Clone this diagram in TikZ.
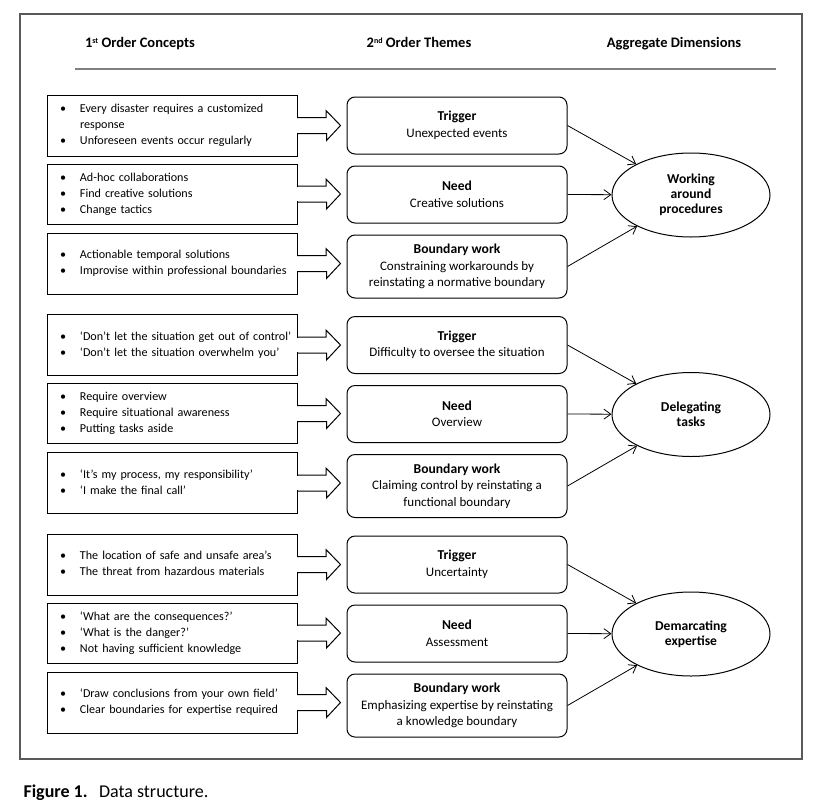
\documentclass[tikz,border=0pt]{standalone}
\usepackage{fontspec}
\setmainfont{Carlito}
\usetikzlibrary{shapes,calc,arrows.meta}

\tikzset{
  concept/.style={draw, line width=1pt, text width=250pt, inner sep=0pt, align=left,
    font=\fontsize{12.1}{16}\selectfont},
  theme/.style={draw, rounded corners=8pt, line width=1pt, minimum width=220pt, inner sep=0pt,
    align=center, font=\fontsize{13}{16.5}\selectfont},
  dimension/.style={draw, ellipse, line width=1pt, minimum width=158pt, minimum height=84pt,
    inner sep=0pt, align=center, font=\bfseries\fontsize{13.6}{15}\selectfont},
  header/.style={anchor=base, font=\bfseries\fontsize{14.5}{16}\selectfont},
  link/.style={->, >={Straight Barb[length=7pt,width=10pt]}, line width=0.8pt},
}

\newcommand{\bul}{\textbullet &}
\newcommand{\pts}[1]{\begin{tabular}{@{\hspace{13pt}}p{20pt}@{}l@{}}#1\end{tabular}}
\newcommand{\ttl}[1]{{\bfseries\fontsize{13.6}{16.5}\selectfont #1}}
\newcommand{\ord}[1]{\raisebox{4pt}{\fontsize{8}{8}\selectfont #1}}
\newcommand{\blockarrow}[2]{%
  \fill[white] ($(#1.east)+(-1,-7.4)$) rectangle ($(#1.east)+(1,7.4)$);
  \draw[line width=1pt, line join=miter] ($(#1.east)+(-0.5,-8)$) -- ++(29,0) -- ++(0,-7)
    -- ($(#1.east -| #2.west)+(-6,0)$) -- ($(#1.east)+(29,15)$) -- ++(0,-7) -- ($(#1.east)+(-0.5,8)$);}

\begin{document}
\begin{tikzpicture}[x=1pt, y=-1pt]
	\useasboundingbox (0,0) rectangle (826,806);
	\draw[black!65, line width=1.2pt] (20,14) rectangle (802,759);
	\node[header] (h1) at (140,47) {1\ord{st} Order Concepts};
	\node[header] (h2) at (419,47) {2\ord{nd} Order Themes};
	\node[header] (h3) at (674,47) {Aggregate Dimensions};
	\draw[black!50, line width=1.5pt] (75,69) -- (776,69);

	\node[concept, minimum height=61pt] (c1) at (172,125.5) {\pts{\bul Every disaster requires a customized\\ & response\\ \bul Unforeseen events occur regularly}};
	\node[concept, minimum height=60pt] (c2) at (172,194) {\pts{\bul Ad-hoc collaborations\\ \bul Find creative solutions\\ \bul Change tactics}};
	\node[concept, minimum height=61pt] (c3) at (172,263.5) {\pts{\bul Actionable temporal solutions\\ \bul Improvise within professional boundaries}};
	\node[concept, minimum height=61pt] (c4) at (172,345) {\pts{\bul ‘Don’t let the situation get out of control’\\ \bul ‘Don’t let the situation overwhelm you’}};
	\node[concept, minimum height=60pt] (c5) at (172,413.5) {\pts{\bul Require overview\\ \bul Require situational awareness\\ \bul Putting tasks aside}};
	\node[concept, minimum height=61pt] (c6) at (172,483) {\pts{\bul ‘It’s my process, my responsibility’\\ \bul ‘I make the final call’}};
	\node[concept, minimum height=61pt] (c7) at (172,564.5) {\pts{\bul The location of safe and unsafe area’s\\ \bul The threat from hazardous materials}};
	\node[concept, minimum height=60pt] (c8) at (172,633) {\pts{\bul ‘What are the consequences?’\\ \bul ‘What is the danger?’\\ \bul Not having sufficient knowledge}};
	\node[concept, minimum height=61pt] (c9) at (172,702.5) {\pts{\bul ‘Draw conclusions from your own field’\\ \bul Clear boundaries for expertise required}};

	\node[theme, minimum height=57pt] (t1) at (457,125.5) {\ttl{Trigger}\\ Unexpected events};
	\node[theme, minimum height=57pt] (t2) at (457,194.5) {\ttl{Need}\\ Creative solutions};
	\node[theme, minimum height=63pt] (t3) at (457,266.5) {\ttl{Boundary work}\\ Constraining workarounds by\\ reinstating a normative boundary};
	\node[theme, minimum height=57pt] (t4) at (457,345) {\ttl{Trigger}\\ Difficulty to oversee the situation};
	\node[theme, minimum height=57pt] (t5) at (457,414) {\ttl{Need}\\ Overview};
	\node[theme, minimum height=63pt] (t6) at (457,486) {\ttl{Boundary work}\\ Claiming control by reinstating a\\ functional boundary};
	\node[theme, minimum height=57pt] (t7) at (457,564.5) {\ttl{Trigger}\\ Uncertainty};
	\node[theme, minimum height=57pt] (t8) at (457,633.5) {\ttl{Need}\\ Assessment};
	\node[theme, minimum height=63pt] (t9) at (457,705.5) {\ttl{Boundary work}\\ Emphasizing expertise by reinstating\\ a knowledge boundary};

	\node[dimension] (e1) at (691,195) {Working\\ around\\ procedures};
	\node[dimension] (e2) at (691,414.5) {Delegating\\ tasks};
	\node[dimension] (e3) at (691,634) {Demarcating\\ expertise};

	\foreach \i in {1,...,9}{
		\blockarrow{c\i}{t\i}
	}
	\foreach \t/\e in {1/1,2/1,3/1,4/2,5/2,6/2,7/3,8/3,9/3}{
		\draw[link] (t\t.east) -- (e\e);
	}

	\node[anchor=base west, font=\fontsize{18}{19}\selectfont] (cap) at (20,797) {\textbf{Figure 1.}\hspace{6pt} Data structure.};
\end{tikzpicture}
\end{document}
